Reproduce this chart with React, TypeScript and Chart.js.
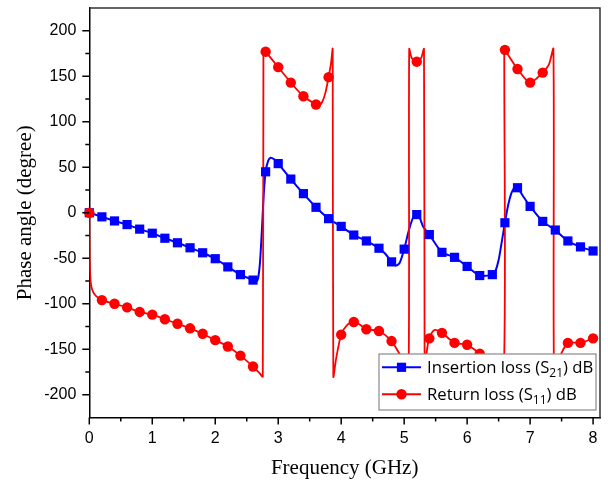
import React, { useEffect, useRef } from "react";
import { Chart, registerables } from "chart.js";

Chart.register(...registerables);

// ---- Data ----
const markerFreq = [
  0, 0.2, 0.4, 0.6, 0.8, 1.0, 1.2, 1.4, 1.6, 1.8, 2.0, 2.2, 2.4, 2.6, 2.8, 3.0, 3.2, 3.4, 3.6, 3.8,
  4.0, 4.2, 4.4, 4.6, 4.8, 5.0, 5.2, 5.4, 5.6, 5.8, 6.0, 6.2, 6.4, 6.6, 6.8, 7.0, 7.2, 7.4, 7.6, 7.8, 8.0,
];
const s21Markers = [
  0, -4.5, -9, -13, -18, -22.5, -28, -33, -38.5, -44, -50.5, -59.5, -68, -74, 45, 54, 37, 21, 6, -6.5,
  -15, -24.5, -31, -39, -54, -40, -2, -24, -43.5, -49, -59, -69, -68, -11, 27.5, 7, -9.5, -19, -31, -37.5, -42,
];
const s11Markers = [
  0, -96, -100, -104, -109, -112, -117, -122, -127, -133, -140, -147, -157, -169, 177, 160, 143, 128, 119, 149,
  -134, -120, -128, -130, -141, -165, 166, -138, -132, -143, -145, -155, -167, 179, 158, 143, 154, -175, -143, -143, -138,
];

const s21CurveFreq = [
  0, 0.2, 0.4, 0.6, 0.8, 1.0, 1.2, 1.4, 1.6, 1.8, 2.0, 2.2, 2.4, 2.6, 2.65, 2.68, 2.71, 2.74, 2.77, 2.8,
  2.84, 2.88, 2.93, 3.0, 3.2, 3.4, 3.6, 3.8, 4.0, 4.2, 4.4, 4.6, 4.7, 4.8, 4.87, 4.93, 5.0, 5.08, 5.15, 5.2,
  5.25, 5.3, 5.4, 5.6, 5.8, 6.0, 6.2, 6.4, 6.45, 6.5, 6.55, 6.6, 6.65, 6.7, 6.75, 6.8, 6.9, 7.0, 7.2, 7.4,
  7.6, 7.8, 8.0,
];
const s21CurveVals = [
  0, -4.5, -9, -13, -18, -22.5, -28, -33, -38.5, -44, -50.5, -59.5, -68, -74, -76, -72, -55, -20, 20, 45,
  57, 60.5, 59, 54, 37, 21, 6, -6.5, -15, -24.5, -31, -39, -45, -54, -58, -55, -40, -18, -4, -2,
  -6, -15, -24, -43.5, -49, -59, -69, -68, -64, -52, -32, -11, 8, 21, 27.5, 27.5, 17, 7, -9.5, -19,
  -31, -37.5, -42,
];

const s11CurveFreq = [
  0, 0.005, 0.015, 0.03, 0.06, 0.1, 0.2, 0.4, 0.6, 0.8, 1.0, 1.2, 1.4, 1.6, 1.8, 2.0, 2.2, 2.4, 2.6, 2.7,
  2.755, 2.765, 2.8, 3.0, 3.2, 3.4, 3.6, 3.65, 3.7, 3.75, 3.8, 3.84, 3.865, 3.875, 3.92, 4.0, 4.1, 4.2, 4.3, 4.4,
  4.6, 4.8, 4.9, 5.0, 5.07, 5.08, 5.12, 5.2, 5.27, 5.315, 5.325, 5.36, 5.4, 5.48, 5.6, 5.8, 6.0, 6.2, 6.4, 6.58,
  6.59, 6.6, 6.8, 7.0, 7.2, 7.3, 7.37, 7.38, 7.45, 7.5, 7.6, 7.8, 8.0,
];
const s11CurveVals = [
  0, -45, -70, -80, -87, -91, -96, -100, -104, -109, -112, -117, -122, -127, -133, -140, -147, -157, -169, -176,
  -180, 180, 177, 160, 143, 128, 119, 118, 122, 132, 149, 165, 180, -180, -160, -134, -123, -120, -123, -128,
  -130, -141, -152, -165, -180, 180, 170, 166, 170, 180, -180, -152, -138, -129, -132, -143, -145, -155, -167, -180,
  180, 179, 158, 143, 154, 163, 180, -180, -165, -154, -143, -143, -138,
];

const yMin = -225;
const yMax = 225;
const yStep = 25;
const xMin = 0;
const xMax = 8.11;
const xStep = 0.5;

const legendPre = ["Insertion loss (S", "Return loss (S"];
const legendSub = ["21", "11"];
const legendPost = [") dB", ") dB"];

const BLUE = "#0000FF";
const RED = "#FF0000";
const SANS = "'Liberation Sans', Arial, sans-serif";
const SERIF = "'Liberation Serif', 'Times New Roman', serif";
const LEGEND_FONT = "'Open Sans', 'Liberation Sans', sans-serif";

const isMult = (v: number, m: number) => Math.abs(v / m - Math.round(v / m)) < 1e-6;

const decorPlugin = {
  id: "decor",
  afterDraw(chart: any) {
    const ctx = chart.ctx as CanvasRenderingContext2D;
    const { left, right, top, bottom } = chart.chartArea;
    const xs = chart.scales.x;
    const ys = chart.scales.y;
    ctx.save();
    // top / right frame
    ctx.strokeStyle = "#333";
    ctx.lineWidth = 1.5;
    ctx.beginPath();
    ctx.moveTo(left, top);
    ctx.lineTo(right, top);
    ctx.lineTo(right, bottom);
    ctx.stroke();
    // ticks
    ctx.strokeStyle = "#000";
    ctx.lineWidth = 1.5;
    ys.ticks.forEach((t: any) => {
      if (t.value <= yMin || t.value >= yMax) return;
      const p = ys.getPixelForValue(t.value);
      const len = isMult(t.value, 50) ? 7 : 4;
      ctx.beginPath();
      ctx.moveTo(left, p);
      ctx.lineTo(left - len, p);
      ctx.stroke();
    });
    xs.ticks.forEach((t: any) => {
      if (t.value > 8.0001) return;
      const p = xs.getPixelForValue(t.value);
      const len = isMult(t.value, 1) ? 7 : 4;
      ctx.beginPath();
      ctx.moveTo(p, bottom);
      ctx.lineTo(p, bottom + len);
      ctx.stroke();
    });

    // legend
    const bw = 217;
    const bh = 56;
    const bx = right - 4 - bw;
    const by = bottom - 7.5 - bh;
    ctx.fillStyle = "#fff";
    ctx.fillRect(bx, by, bw, bh);
    ctx.strokeStyle = "#8a8a8a";
    ctx.lineWidth = 1.2;
    ctx.strokeRect(bx, by, bw, bh);
    const colors = [BLUE, RED];
    for (let i = 0; i < 2; i++) {
      const ly = by + 13.3 + i * 27;
      const base = ly + 5.6;
      ctx.strokeStyle = colors[i];
      ctx.lineWidth = 2;
      ctx.beginPath();
      ctx.moveTo(bx + 3, ly);
      ctx.lineTo(bx + 42, ly);
      ctx.stroke();
      ctx.fillStyle = colors[i];
      const cx = bx + 22.5;
      if (i === 0) {
        ctx.fillRect(cx - 4.6, ly - 4.6, 9.2, 9.2);
      } else {
        ctx.beginPath();
        ctx.arc(cx, ly, 5.2, 0, Math.PI * 2);
        ctx.fill();
      }
      ctx.fillStyle = "#000";
      ctx.textBaseline = "alphabetic";
      ctx.textAlign = "left";
      let tx = bx + 48;
      ctx.font = `16.7px ${LEGEND_FONT}`;
      ctx.fillText(legendPre[i], tx, base);
      tx += ctx.measureText(legendPre[i]).width;
      ctx.font = `12px ${LEGEND_FONT}`;
      ctx.fillText(legendSub[i], tx, base + 4);
      tx += ctx.measureText(legendSub[i]).width;
      ctx.font = `16.7px ${LEGEND_FONT}`;
      ctx.fillText(legendPost[i], tx, base);
    }
    ctx.restore();
  },
};

export default function App() {
  const canvasRef = useRef<HTMLCanvasElement | null>(null);

  useEffect(() => {
    let chart: Chart | null = null;
    let cancelled = false;
    const make = () => {
      if (cancelled || !canvasRef.current) return;
      const toXY = (xs: number[], ys: number[]) => xs.map((x, i) => ({ x, y: ys[i] }));
      chart = new Chart(canvasRef.current, {
        type: "scatter",
        data: {
          datasets: [
            {
              label: "Return loss markers",
              data: toXY(markerFreq, s11Markers),
              showLine: false,
              pointStyle: "circle",
              pointRadius: 5.2,
              backgroundColor: RED,
              borderColor: RED,
              borderWidth: 0,
              clip: false,
              order: 0,
            } as any,
            {
              label: "Insertion loss markers",
              data: toXY(markerFreq, s21Markers),
              showLine: false,
              pointStyle: "rect",
              pointRadius: 6.5,
              backgroundColor: BLUE,
              borderColor: BLUE,
              borderWidth: 0,
              clip: false,
              order: 1,
            } as any,
            {
              label: "Return loss (S11) dB",
              data: toXY(s11CurveFreq, s11CurveVals),
              showLine: true,
              pointRadius: 0,
              borderColor: RED,
              borderWidth: 1.8,
              tension: 0.25,
              order: 2,
            } as any,
            {
              label: "Insertion loss (S21) dB",
              data: toXY(s21CurveFreq, s21CurveVals),
              showLine: true,
              pointRadius: 0,
              borderColor: BLUE,
              borderWidth: 2,
              tension: 0.25,
              order: 3,
            } as any,
          ],
        },
        options: {
          animation: false,
          responsive: true,
          maintainAspectRatio: false,
          events: [],
          layout: { padding: { left: 0, top: 8, right: 8, bottom: 0 } },
          plugins: { legend: { display: false }, tooltip: { enabled: false } },
          scales: {
            x: {
              type: "linear",
              min: xMin,
              max: xMax,
              afterFit: (s: any) => {
                s.height = 68.5;
                s.paddingLeft = 0;
                s.paddingRight = 0;
              },
              border: { display: true, color: "#000", width: 1.5 },
              grid: { display: true, drawOnChartArea: false, drawTicks: true, tickLength: 7, color: "rgba(0,0,0,0)" },
              ticks: {
                stepSize: xStep,
                includeBounds: false,
                autoSkip: false,
                maxRotation: 0,
                padding: 4,
                color: "#000",
                font: { family: SANS, size: 16 },
                callback: (v: any) => (isMult(Number(v), 1) && Number(v) <= 8 ? String(Math.round(Number(v))) : ""),
              },
              title: {
                display: true,
                text: "Frequency (GHz)",
                color: "#000",
                font: { family: SERIF, size: 21 },
                padding: { top: 0, bottom: 5 },
              },
            },
            y: {
              type: "linear",
              min: yMin,
              max: yMax,
              afterFit: (s: any) => {
                s.width = 89.3;
                s.paddingTop = 0;
                s.paddingBottom = 0;
              },
              border: { display: true, color: "#000", width: 1.5 },
              grid: { display: true, drawOnChartArea: false, drawTicks: true, tickLength: 7, color: "rgba(0,0,0,0)" },
              ticks: {
                stepSize: yStep,
                autoSkip: false,
                padding: 6,
                color: "#000",
                font: { family: SANS, size: 16 },
                callback: (v: any) => (isMult(Number(v), 50) ? String(v) : ""),
              },
              title: {
                display: true,
                text: "Phase angle (degree)",
                color: "#000",
                font: { family: SERIF, size: 21 },
                padding: { top: 13, bottom: 0 },
              },
            },
          },
        },
        plugins: [decorPlugin],
      } as any);
    };
    const fontsReady = (document as any).fonts
      ? Promise.all([
          (document as any).fonts.load(`16px 'Liberation Sans'`),
          (document as any).fonts.load(`21px 'Liberation Serif'`),
          (document as any).fonts.load(`17px 'Open Sans'`),
        ]).catch(() => null)
      : Promise.resolve(null);
    fontsReady.then(make);
    return () => {
      cancelled = true;
      if (chart) chart.destroy();
    };
  }, []);

  return (
    <div style={{ position: "absolute", left: 0, top: 0, width: 608, height: 486, background: "#fff" }}>
      <canvas ref={canvasRef} />
    </div>
  );
}
